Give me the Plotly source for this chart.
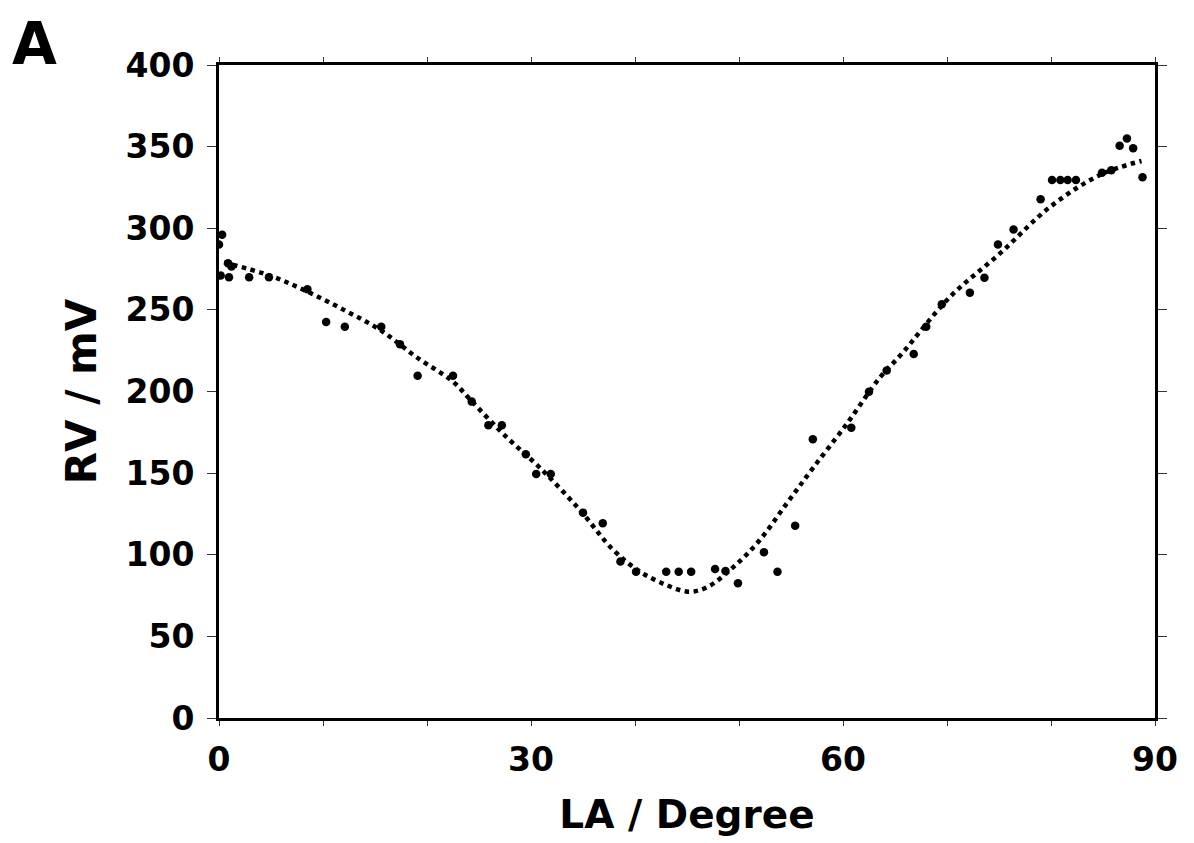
import plotly.graph_objects as go

# Measured data points (LA in degrees, RV in mV)
la_deg = [0.0, 0.3, 0.16, 0.87, 1.2, 0.96, 2.9, 4.8, 8.5, 10.3, 12.1, 15.6, 17.4,
          19.1, 22.5, 24.3, 25.9, 27.2, 29.5, 30.5, 31.9, 35.0, 36.9, 38.6, 40.1,
          43.0, 44.2, 45.4, 47.7, 48.7, 49.9, 52.4, 53.7, 55.4, 57.1, 60.8, 62.5,
          64.2, 66.8, 68.0, 69.5, 72.2, 73.6, 74.9, 76.4, 79.0, 80.1, 80.9, 81.6,
          82.4, 84.9, 85.8, 86.6, 87.3, 87.9, 88.8]
rv_mv = [290, 296, 271, 278.5, 276.5, 270, 270, 270, 262.6, 242.6, 239.7, 239.7, 228.9,
         209.7, 209.7, 193.8, 179.3, 179.3, 161.5, 149.5, 149.5, 125.8, 119.3, 95.8, 89.6,
         89.6, 89.6, 89.6, 91.3, 90, 82.5, 101.5, 89.6, 117.8, 170.7, 177.8, 199.9,
         212.8, 223, 239.7, 253.4, 260.5, 269.7, 290, 299.3, 317.7, 329.6, 329.6, 329.6,
         329.6, 334, 335.5, 350.6, 355, 349, 331.2]

# Fitted curve
fit_x = [0.5, 4.9, 8.4, 12.0, 15.5, 19.0, 22.5, 24.3, 27.5, 30.9, 34.7, 37.9, 40.5,
         43.0, 45.1, 46.9, 49.5, 52.0, 54.6, 57.1, 60.4, 63.6, 65.5, 70.3, 75.1,
         79.9, 84.7, 88.7]
fit_y = [279, 271, 261.5, 250, 237.7, 221, 206, 194, 173, 153, 127.4, 103, 89.6,
         81.5, 77.4, 80, 92.7, 109, 131.5, 153, 180.5, 209, 222, 258, 284.6,
         313, 332.6, 341.2]

x_tickvals = [0, 10, 20, 30, 40, 50, 60, 70, 80, 90]
x_ticktext = ["0", "", "", "30", "", "", "60", "", "", "90"]
y_tickvals = [0, 50, 100, 150, 200, 250, 300, 350, 400]
y_ticktext = ["0", "50", "100", "150", "200", "250", "300", "350", "400"]

FONT = "DejaVu Sans"

fig = go.Figure()
fig.add_trace(go.Scatter(
    x=fit_x, y=fit_y, mode="lines", line_shape="spline",
    line=dict(color="black", width=4.5, dash="4.5px,4.5px"),
    showlegend=False, hoverinfo="skip"))
fig.add_trace(go.Scatter(
    x=la_deg, y=rv_mv, mode="markers",
    marker=dict(color="black", size=8.5, line=dict(width=0)),
    showlegend=False))

# The page body adds an 8px offset, so the figure is 8px smaller than the window
fig.update_layout(
    width=1186, height=835,
    margin=dict(l=211, r=39, t=57, b=125),
    paper_bgcolor="white", plot_bgcolor="white",
    font=dict(family=FONT, color="black", size=33, weight="bold"),
    xaxis=dict(
        range=[0, 90], tickvals=x_tickvals, ticktext=x_ticktext,
        showgrid=False, zeroline=False,
        showline=True, linewidth=3, linecolor="black", mirror="allticks",
        ticks="outside", ticklen=5, tickwidth=1, tickcolor="#333",
        ticklabelstandoff=5,
        tickfont=dict(family=FONT, size=33, weight="bold"),
        title=dict(text="LA / Degree", standoff=24,
                   font=dict(family=FONT, size=39, weight="bold")),
    ),
    yaxis=dict(
        range=[0, 400], tickvals=y_tickvals, ticktext=y_ticktext,
        showgrid=False, zeroline=False,
        showline=True, linewidth=3, linecolor="black", mirror="allticks",
        ticks="outside", ticklen=9, tickwidth=1, tickcolor="#333",
        ticklabelstandoff=6,
        tickfont=dict(family=FONT, size=33, weight="bold"),
        title=dict(text="RV / mV", standoff=16,
                   font=dict(family=FONT, size=42, weight="bold")),
    ),
    annotations=[dict(
        text="A", xref="paper", yref="paper", x=-211/936, y=1 + 57/653,
        xanchor="left", yanchor="top", showarrow=False, xshift=2, yshift=0,
        font=dict(family=FONT, size=58, weight="bold", color="black"))],
)

fig.write_html("out.html")
